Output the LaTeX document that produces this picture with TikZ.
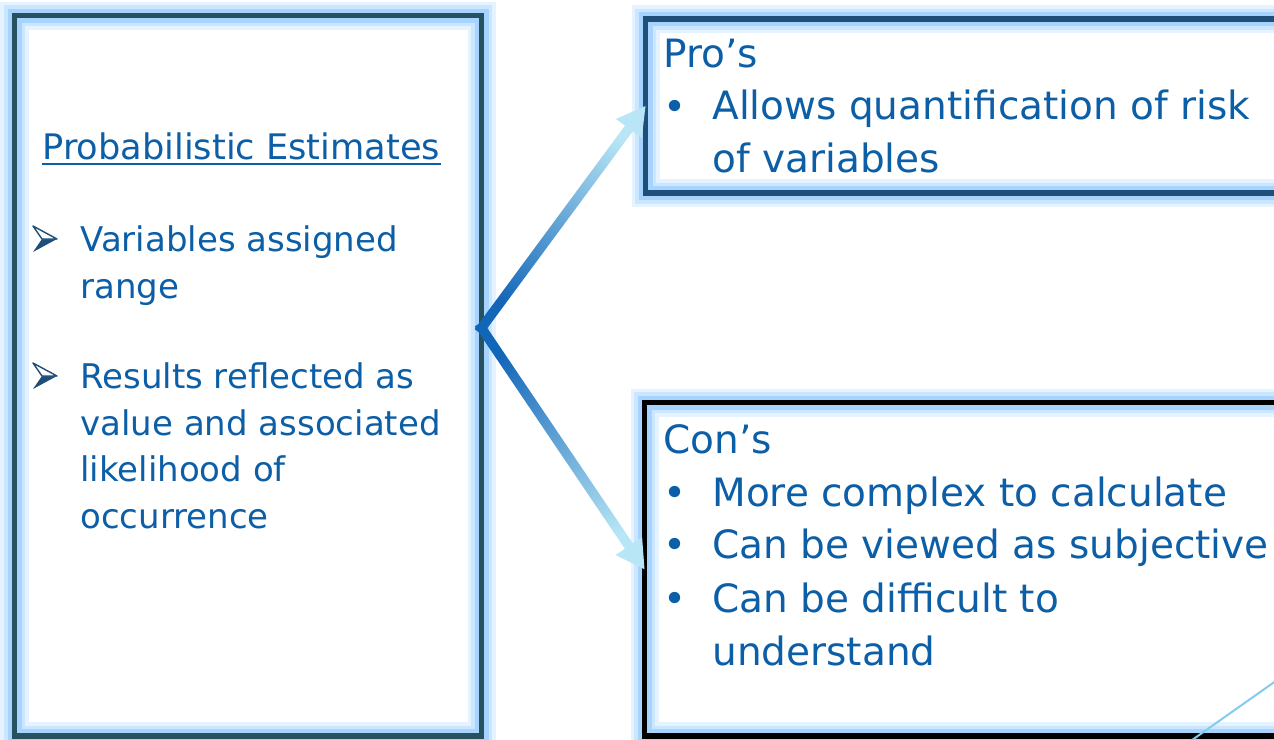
\documentclass[tikz,border=0pt]{standalone}
\usepackage{fontspec}
\setmainfont{DejaVu Sans}
\usetikzlibrary{calc}

\definecolor{txtblue}{RGB}{12,94,166}
\definecolor{glowblue}{RGB}{150,205,255}
\definecolor{slateline}{RGB}{38,82,96}
\definecolor{proline}{RGB}{31,78,121}
\definecolor{arrowdark}{RGB}{18,102,184}
\definecolor{arrowlight}{RGB}{184,230,246}
\definecolor{decoline}{RGB}{130,205,235}

\def\pxunit{0.5pt}

\begin{document}
\begin{tikzpicture}[x=\pxunit, y=-\pxunit]
    \tikzstyle{glow}=[rectangle, anchor=north west, inner sep=0pt, outer sep=0pt, line width=2.8pt,
        preaction={draw=glowblue!25, line width=14pt},
        preaction={draw=glowblue!50, line width=10.5pt},
        preaction={draw=glowblue!85, line width=7pt}]
    \tikzstyle{txt}=[anchor=base west, inner sep=0pt, text=txtblue, align=left]
    \tikzstyle{small}=[font=\fontsize{17pt}{23.2pt}\selectfont]
    \tikzstyle{big}=[font=\fontsize{19.5pt}{26.5pt}\selectfont]

    \useasboundingbox (0,0) rectangle (1274,739);
    \clip (0,0) rectangle (1274,739);

    %%% DRAW THE BOXES
    \node[glow, draw=slateline, minimum width=233.5pt, minimum height=360.25pt] (est) at (14.5,15.5) {};
    \node[glow, draw=proline, minimum width=330pt, minimum height=87pt] (pro) at (645.5,19) {};
    \node[glow, draw=black, minimum width=330pt, minimum height=166.75pt] (con) at (644.5,402.5) {};

    %%% LEFT BOX TEXT (multi-line nodes sit on their last baseline)
    \node[txt, font=\fontsize{17.6pt}{22pt}\selectfont] (head) at (42,159) {Probabilistic Estimates};
    \draw[txtblue, line width=1pt] ($(head.base west)+(0,5)$) -- ($(head.base east)+(0,5)$);
    \node[txt, small] (var) at (80,298) {Variables assigned\\range};
    \node[txt, small] (res) at (80,528) {Results reflected as\\value and associated\\likelihood of\\occurrence};

    % arrowhead bullets: open upper half, solid lower half
    \coordinate (b1) at (33,226);
    \coordinate (b2) at (33,363);
    \foreach \b in {b1,b2}{
        \fill[proline] ($(\b)+(24,13)$) -- ($(\b)+(0,26)$) -- ($(\b)+(9,13)$) -- cycle;
        \draw[proline, fill=white, line width=0.7pt, line join=round]
            (\b) -- ($(\b)+(24,13)$) -- ($(\b)+(9,13)$) -- cycle;
    }

    %%% PRO'S AND CON'S
    \node[txt, big] (protitle) at (663,67) {Pro’s};
    \node[txt, big] (p1) at (663,120) {•};
    \node[txt, big] (quant) at (712,172) {Allows quantification of risk\\of variables};

    \node[txt, big] (contitle) at (663,453) {Con’s};
    \foreach \name/\y/\last/\item in {c1/506/506/More complex to calculate,
            c2/558/558/Can be viewed as subjective, c3/612/665/Can be difficult to\\understand}{
        \node[txt, big] (dot-\name) at (663,\y) {•};
        \node[txt, big] (\name) at (712,\last) {\item};
    }

    %%% DRAW THE ARROWS
    \coordinate (hub) at (est.east |- 0,328);
    \foreach \dest/\ang in {pro/-36.5, con/-146}{
        \coordinate (tip) at (\dest.west);
        \coordinate (root) at ($(hub)!-2.5pt!(tip)$);
        \coordinate (neck) at ($(tip)!14pt!(hub)$);
        \shade[top color=arrowlight, bottom color=arrowdark, shading angle=\ang]
            ($(root)!2.4pt!90:(tip)$) -- ($(neck)!2.4pt!90:(tip)$) -- ($(neck)!8pt!90:(tip)$) -- (tip)
            -- ($(neck)!8pt!-90:(tip)$) -- ($(neck)!2.4pt!-90:(tip)$) -- ($(root)!2.4pt!-90:(tip)$) -- cycle;
    }

    % thin line in the corner
    \draw[decoline, line width=1pt] (1185,745) -- (1290,671);
\end{tikzpicture}
\end{document}
